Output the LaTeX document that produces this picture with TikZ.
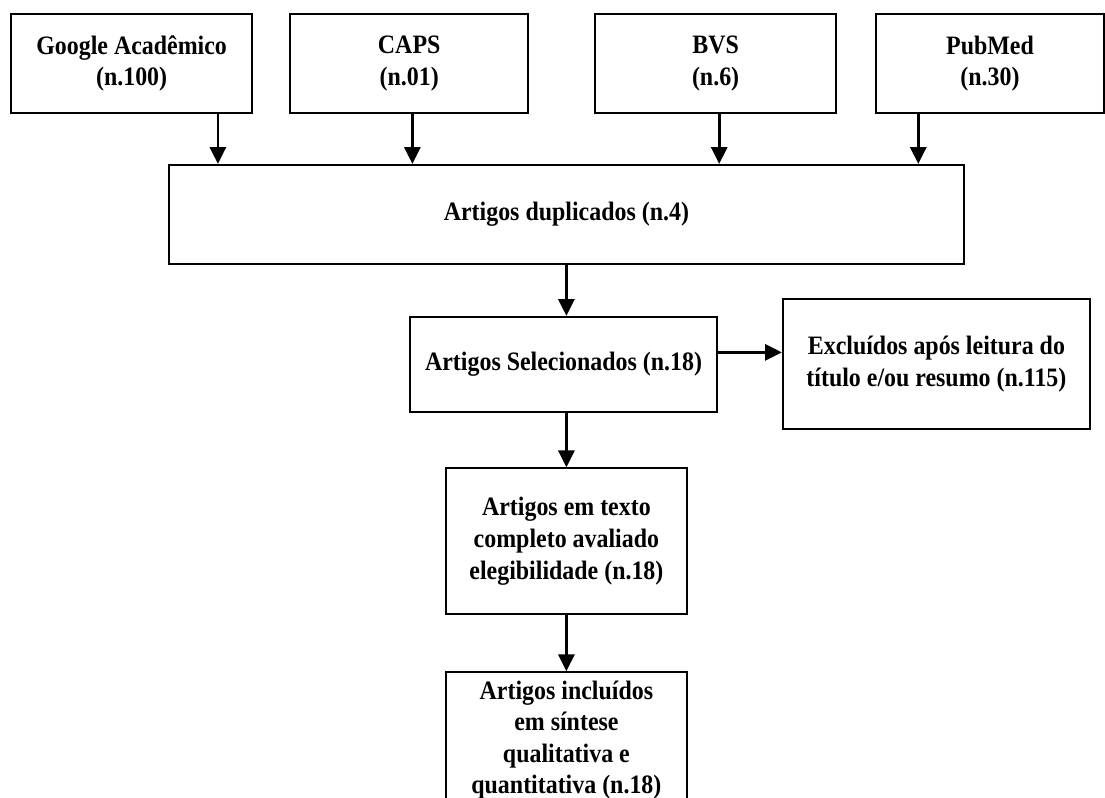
\documentclass[tikz,border=0pt]{standalone}
\usepackage{fontspec}
\setmainfont{Liberation Serif}[FakeStretch=0.9]
\usepackage{tikz}
\usetikzlibrary{shapes,positioning,calc}
\usetikzlibrary{arrows.meta}
\tikzstyle{caixa} = [rectangle, minimum width=6.03cm, minimum height=2.48cm, inner sep=0pt, text centered, align=center, draw=black, line width=1.3pt, font=\fontsize{18.9}{22.5}\selectfont\bfseries]
\tikzstyle{seta} = [line width=1.9pt,-{Triangle[length=12pt,width=11.5pt]}]

\begin{document}
\begin{tikzpicture}
				\useasboundingbox (0,0) rectangle (27.625,-19.95);
				% bases de dados
				\node (google) at (3.29,-1.59) [caixa] {Google Acadêmico\\(n.100)};
				\node (caps) at (10.23,-1.59) [caixa, minimum width=5.95cm] {CAPS\\(n.01)};
				\node (bvs) at (17.89,-1.59) [caixa] {BVS\\(n.6)};
				\node (pubmed) at (24.75,-1.59) [caixa, minimum width=5.7cm] {PubMed\\(n.30)};
				\node (dup) at (14.16,-5.36) [caixa, minimum width=19.88cm] {Artigos duplicados (n.4)};
				\node (sel) at (14.09,-9.11) [caixa, minimum width=7.68cm, minimum height=2.38cm] {Artigos Selecionados (n.18)};
				\node (exc) at (23.41,-9.1) [caixa, minimum width=7.68cm, minimum height=3.25cm] {Excluídos após leitura do\\título e/ou resumo (n.115)};
				\node (texto) at (14.16,-13.53) [caixa, minimum height=3.65cm] {Artigos em texto\\completo avaliado\\elegibilidade (n.18)};
				\node (incl) at (14.16,-16.78) [caixa, anchor=north, minimum height=3.4cm] {Artigos incluídos\\em síntese\\qualitativa e\\quantitativa (n.18)};
				% setas
				\draw[seta] ([xshift=-0.88cm]google.south east) coordinate (g1) -- (g1 |- dup.north);
				\draw[seta] ([xshift=0.08cm]caps.south) coordinate (c1) -- (c1 |- dup.north);
				\draw[seta] ([xshift=0.09cm]bvs.south) coordinate (b1) -- (b1 |- dup.north);
				\draw[seta] ([xshift=1.08cm]pubmed.south west) coordinate (p1) -- (p1 |- dup.north);
				\draw[seta] (dup.south) -- (dup.south |- sel.north);
				\draw[seta] ([yshift=0.3cm]sel.east) coordinate (s1) -- (s1 -| exc.west);
				\draw[seta] (texto.north |- sel.south) -- (texto.north);
				\draw[seta] (texto.south) -- (incl.north);
\end{tikzpicture}
\end{document}
